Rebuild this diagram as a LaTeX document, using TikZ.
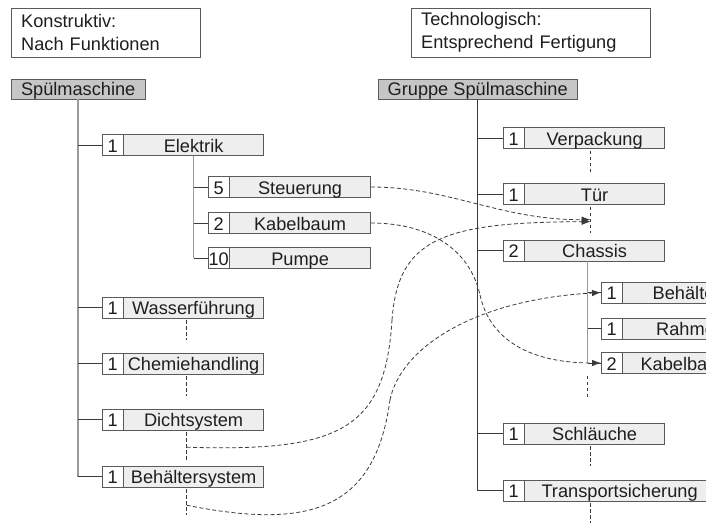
\documentclass[tikz,border=0pt]{standalone}
\usepackage{fontspec}
\setmainfont{Liberation Sans}
\usetikzlibrary{arrows.meta,calc}
\definecolor{bordercol}{HTML}{5A5A5A}
\definecolor{boxfill}{HTML}{EEEEEE}
\definecolor{headfill}{HTML}{C6C6C6}
\definecolor{trunkgray}{HTML}{9A9A9A}
\definecolor{linedark}{HTML}{3A3A3A}
\definecolor{txt}{HTML}{1E1E1E}
\newcommand\bomitem[6]{%
  \node[numbox] (#1-n) at (#2,#3) {#4};
  \node[mainbox, minimum width=#6pt] (#1) at (#1-n.east) {#5};
}
\begin{document}
\begin{tikzpicture}[x=1pt,y=-1pt,
  every node/.style={font=\fontsize{18.2}{23}\selectfont, text=txt},
  numbox/.style={draw=bordercol, fill=white, anchor=west, minimum width=21pt, minimum height=21pt, inner sep=0pt, text height=15.5pt, text depth=1.5pt},
  mainbox/.style={draw=bordercol, fill=boxfill, anchor=west, minimum height=21pt, inner sep=0pt, text height=15.5pt, text depth=1.5pt},
  headbox/.style={draw=bordercol, fill=headfill, anchor=north west, minimum height=20pt, inner xsep=8pt, inner ysep=0pt, text height=14.5pt, text depth=2.5pt},
  notebox/.style={draw=bordercol, anchor=north west, align=left, minimum height=49pt, inner xsep=10pt, inner ysep=0pt},
  trunkL/.style={draw=trunkgray, line width=1.6pt},
  trunkR/.style={draw=linedark, line width=1pt},
  subtrunk/.style={draw=trunkgray, line width=1.2pt},
  branch/.style={draw=linedark, line width=0.9pt},
  vdash/.style={draw=linedark, line width=0.8pt, dash pattern=on 3.5pt off 2.5pt},
  curve/.style={draw=linedark, line width=0.8pt, dash pattern=on 4pt off 2.5pt, -{Latex[length=9pt,width=6.5pt]}},
  curvenotip/.style={draw=linedark, line width=0.8pt, dash pattern=on 4pt off 2.5pt}
]
\clip (0,0) rectangle (706,524);
\fill[white] (0,0) rectangle (706,524);

% notes
\node[notebox, text width=169pt] (nk) at (11,8) {Konstruktiv:\\Nach Funktionen};
\node[notebox, text width=219pt] (nt) at (411,8) {Technologisch:\\Entsprechend Fertigung};

% headers
\node[headbox, minimum width=134pt] (sp) at (11,79) {Spülmaschine\hfill};
\node[headbox, minimum width=199pt] (gs) at (378,79) {Gruppe Spülmaschine};

% left tree
\bomitem{el}{102}{145}{1}{Elektrik}{140}
\bomitem{st}{208}{187}{5}{Steuerung}{141}
\bomitem{kb}{208}{223}{2}{Kabelbaum}{141}
\bomitem{pu}{208}{258}{10}{Pumpe}{141}
\bomitem{wf}{102}{307.5}{1}{Wasserführung}{140}
\bomitem{ch}{102}{363.5}{1}{Chemiehandling}{140}
\bomitem{ds}{102}{419.5}{1}{Dichtsystem}{140}
\bomitem{bh}{102}{476.5}{1}{Behältersystem}{140}

% right tree
\bomitem{vp}{503}{138}{1}{Verpackung}{140}
\bomitem{tu}{503}{194}{1}{Tür}{140}
\bomitem{cs}{503}{250.5}{2}{Chassis}{140}
\bomitem{be}{601}{292.5}{1}{Behälter}{128}
\bomitem{ra}{601}{328.5}{1}{Rahmen}{136}
\bomitem{kr}{601}{363}{2}{Kabelbaum}{128}
\bomitem{sl}{503}{433.5}{1}{Schläuche}{140}
\bomitem{ts}{503}{490.5}{1}{Transportsicherung}{190}

% left trunk and branches
\draw[trunkL] (sp.south) -- (sp.south |- bh-n.west);
\foreach \n in {el,wf,ch,ds,bh} \draw[branch] (sp.south |- \n-n.west) -- (\n-n.west);
\draw[subtrunk] (el.south) -- (el.south |- pu-n.west);
\foreach \n in {st,kb,pu} \draw[branch] (el.south |- \n-n.west) -- (\n-n.west);

% right trunk and branches
\draw[trunkR] (gs.south) -- (gs.south |- ts-n.west);
\foreach \n in {vp,tu,cs,sl,ts} \draw[branch] (gs.south |- \n-n.west) -- (\n-n.west);
\coordinate (csx) at ($(cs.south)+(-7,0)$);
\draw[subtrunk] (csx) -- (csx |- kr-n.west);
\foreach \n in {be,ra,kr} \draw[branch] (csx |- \n-n.west) -- (\n-n.west);

% dashed continuations
\foreach \n in {wf,ch} \draw[vdash] ($(\n.south)+(-7,2)$) -- ++(0,20);
\draw[vdash] ($(ds.south)+(-7,2)$) -- ++(0,28);
\draw[vdash] ($(bh.south)+(-7,2)$) -- ++(0,26);
\coordinate (rx) at ($(vp.south)+(-4,0)$);
\draw[vdash] ($(vp.south)+(-4,2)$) -- ++(0,22);
\draw[vdash] ($(tu.south)+(-4,2)$) -- ++(0,26);
\draw[vdash] ($(csx |- kr.south)+(0,2)$) -- ++(0,22);
\draw[vdash] ($(rx |- sl.south)+(0,2)$) -- ++(0,20);
\draw[vdash] ($(rx |- ts.south)+(0,2)$) -- ++(0,20);

% cross links
\coordinate (dsd) at ($(ds.south)+(-7,17)$);
\coordinate (bhd) at ($(bh.south)+(-7,18)$);
\coordinate (tuA) at ($(tu.south)+(-4,15)$);
\coordinate (tuB) at ($(tu.south)+(-4,17)$);
\draw[curve] (st.east) .. controls (450,187) and (500,220) .. (tuA);
\draw[curvenotip] (kb.east) .. controls (430,223) and (470,250) .. (480,295);
\draw[curve] (480,295) .. controls (490,340) and (530,363) .. (kr-n.west);
\draw[curvenotip] (dsd) .. controls (340,452) and (385,430) .. (392,320);
\draw[curve] (392,320) .. controls (398,240) and (440,222) .. (tuB);
\draw[curvenotip] (bhd) .. controls (310,530) and (375,510) .. (390,400);
\draw[curve] (390,400) .. controls (400,350) and (470,300) .. (be-n.west);
\end{tikzpicture}
\end{document}
